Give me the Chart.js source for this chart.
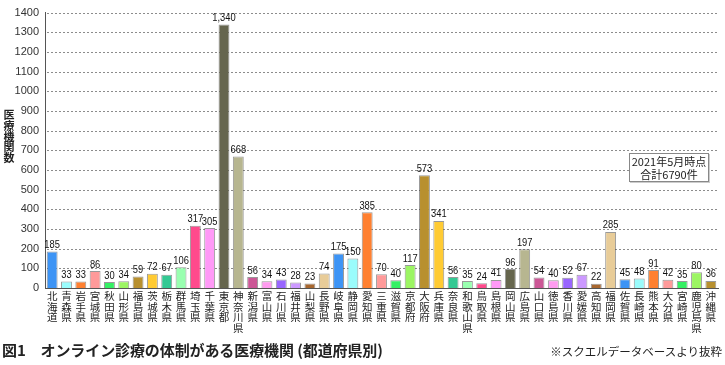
<!DOCTYPE html>
<html lang="ja">
<head>
<meta charset="utf-8">
<script src="https://cdn.jsdelivr.net/npm/chart.js@4"></script>
<style>
  body { margin: 0; background: #fff; }
  #wrap { position: relative; width: 725px; height: 365px; font-family: 'Noto Sans CJK JP', sans-serif; color: #222; }
  #chart { position: absolute; left: 0; top: 0; }
  .ytitle { position: absolute; left: 3px; top: 109px; width: 12px; font-size: 11px; line-height: 10.8px; font-weight: bold; text-align: center; }
  .note-box { position: absolute; left: 629px; top: 153px; width: 80px; height: 29px; border: 1px solid #888; box-shadow: 1px 1px 0 #ccc; background: #fff;
              font-size: 11px; line-height: 13px; text-align: center; padding-top: 1px; box-sizing: border-box; }
  .caption { position: absolute; left: 2px; top: 339px; font-size: 15px; font-weight: bold; letter-spacing: -0.1px; white-space: nowrap; }
  .source { position: absolute; right: 3px; top: 343px; font-size: 11.5px; white-space: nowrap; }
</style>
</head>
<body>
<div id="wrap">
  <canvas id="chart" width="725" height="365"></canvas>
  <div class="ytitle">医<br>療<br>機<br>関<br>数</div>
  <div class="note-box">2021年5月時点<br>合計6790件</div>
  <div class="caption">図1　オンライン診療の体制がある医療機関 (都道府県別)</div>
  <div class="source">※スクエルデータベースより抜粋</div>
</div>
<script>
// 都道府県
const prefectures = ['北海道','青森県','岩手県','宮城県','秋田県','山形県','福島県','茨城県','栃木県','群馬県',
  '埼玉県','千葉県','東京都','神奈川県','新潟県','富山県','石川県','福井県','山梨県','長野県',
  '岐阜県','静岡県','愛知県','三重県','滋賀県','京都府','大阪府','兵庫県','奈良県','和歌山県',
  '鳥取県','島根県','岡山県','広島県','山口県','徳島県','香川県','愛媛県','高知県','福岡県',
  '佐賀県','長崎県','熊本県','大分県','宮崎県','鹿児島県','沖縄県'];

// 医療機関数
const counts = [185, 33, 33, 86, 30, 34, 59, 72, 67, 106,
  317, 305, 1340, 668, 56, 34, 43, 28, 23, 74,
  175, 150, 385, 70, 40, 117, 573, 341, 56, 35,
  24, 41, 96, 197, 54, 40, 52, 67, 22, 285,
  45, 48, 91, 42, 35, 80, 36];

const yTicks = [0, 100, 200, 300, 400, 500, 600, 700, 800, 900, 1000, 1100, 1200, 1300, 1400];

// 20色で繰り返し
const palette = ['#3d94f5','#9afcfc','#ff8030','#ff9a9a','#35f064','#9cf563','#b8902f','#ffcb33','#33c993','#99ffb0',
  '#ff4a8c','#ff99f7','#66664e','#b7b690','#cc5796','#ff9cf0','#9966ff','#cc99ff','#a8672f','#e8cc98'];

// 点線のグリッド（y軸の目盛りから）
const dottedGrid = {
  id: 'dottedGrid',
  beforeDatasetsDraw(chart) {
    const { ctx, chartArea, scales } = chart;
    ctx.save();
    ctx.strokeStyle = '#8c8c8c';
    ctx.lineWidth = 1;
    ctx.setLineDash([2, 2]);
    scales.y.ticks.forEach(t => {
      if (t.value === 0) return;
      const y = Math.round(scales.y.getPixelForValue(t.value)) + 0.5;
      ctx.beginPath();
      ctx.moveTo(chartArea.left + 2, y);
      ctx.lineTo(chartArea.right, y);
      ctx.stroke();
    });
    ctx.restore();
  }
};

// 棒の上に値を表示（少し横を詰める）
const valueLabels = {
  id: 'valueLabels',
  afterDatasetsDraw(chart) {
    const ctx = chart.ctx;
    const meta = chart.getDatasetMeta(0);
    meta.data.forEach((bar, i) => {
      ctx.save();
      ctx.translate(bar.x, bar.y - 1);
      ctx.scale(0.85, 1);
      ctx.font = "11px 'Liberation Sans', sans-serif";
      ctx.fillStyle = '#111';
      ctx.textAlign = 'center';
      ctx.textBaseline = 'bottom';
      ctx.fillText(counts[i].toLocaleString('en-US'), 0, 0);
      ctx.restore();
    });
  }
};

new Chart(document.getElementById('chart'), {
  type: 'bar',
  data: {
    labels: prefectures.map(p => p.split('')),
    datasets: [{
      data: counts,
      backgroundColor: counts.map((_, i) => palette[i % palette.length]),
      borderColor: 'rgba(70,70,70,0.55)',
      borderWidth: 1,
      categoryPercentage: 1,
      barPercentage: 0.76
    }]
  },
  options: {
    responsive: false,
    animation: false,
    devicePixelRatio: 1,
    layout: { padding: { top: 5, right: 7, left: 0, bottom: 0 } },
    plugins: {
      legend: { display: false },
      tooltip: { enabled: false }
    },
    scales: {
      x: {
        afterFit: s => { s.height = 77; },
        grid: { display: false, drawTicks: false },
        border: { color: '#555', width: 1 },
        ticks: {
          autoSkip: false,
          maxRotation: 0,
          minRotation: 0,
          padding: 3,
          color: '#222',
          font: { family: "'Noto Sans CJK JP', sans-serif", size: 10.5, lineHeight: 1.0 }
        }
      },
      y: {
        min: 0,
        max: 1400,
        afterFit: s => { s.width = 45; },
        afterBuildTicks: s => { s.ticks = yTicks.map(v => ({ value: v })); },
        grid: { display: false, drawTicks: false },
        border: { display: true, color: '#555', width: 1 },
        ticks: {
          padding: 6,
          color: '#333',
          font: { family: "'Liberation Sans', sans-serif", size: 11 },
          callback: v => String(v)
        }
      }
    }
  },
  plugins: [dottedGrid, valueLabels]
});
</script>
</body>
</html>
